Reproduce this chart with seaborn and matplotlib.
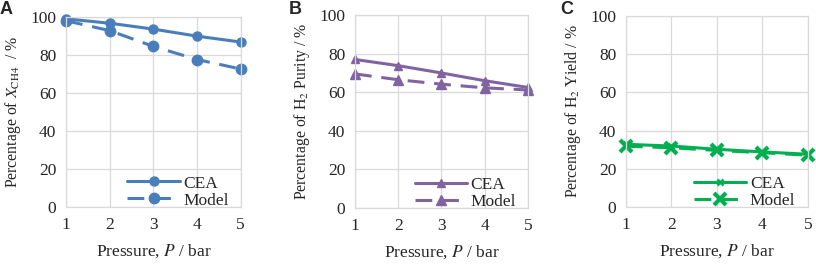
import matplotlib
matplotlib.use("Agg")
import matplotlib.pyplot as plt
import pandas as pd
import seaborn as sns

sns.set_style("white")
plt.rcParams["font.family"] = ["Liberation Serif", "DejaVu Serif"]
plt.rcParams["mathtext.fontset"] = "stix"

pressure = [1, 2, 3, 4, 5]
xch4_cea = [99.0, 96.7, 93.6, 89.9, 86.8]
xch4_model = [98.0, 92.8, 84.5, 77.6, 72.6]
purity_cea = [77.0, 73.8, 70.0, 66.0, 62.5]
purity_model = [69.5, 66.5, 64.2, 62.3, 61.2]
yield_cea = [32.8, 31.9, 30.2, 28.8, 27.6]
yield_model = [31.8, 31.0, 29.6, 28.4, 27.1]

panels = [
    ("A", xch4_cea, xch4_model, "#4a7ebb", "o", "o", 6.5, 7.5,
     r"Percentage of $\mathit{X}_{\mathrm{CH4}}$  / %",
     [0.081, 0.219, 0.214, 0.717]),
    ("B", purity_cea, purity_model, "#8064a2", "^", "^", 5.5, 7.5,
     r"Percentage of H$_2$ Purity / %",
     [0.435, 0.215, 0.212, 0.728]),
    ("C", yield_cea, yield_model, "#00b050", "x", "x", 5, 9,
     r"Percentage of H$_2$ Yield / %",
     [0.767, 0.219, 0.223, 0.721]),
]

fig = plt.figure(figsize=(8.16, 2.65), dpi=100)

for letter, cea, model, color, m1, m2, ms1, ms2, ylabel, pos in panels:
    ax = fig.add_axes(pos)
    df = pd.DataFrame({
        "P": pressure * 2,
        "value": cea + model,
        "series": ["CEA"] * 5 + ["Model"] * 5,
    })
    sns.lineplot(data=df[df.series == "CEA"], x="P", y="value", ax=ax,
                 color=color, lw=2.2, marker=m1, markersize=ms1,
                 markeredgewidth=1.8 if m1 == "x" else 1,
                 markeredgecolor=color, label="CEA", clip_on=False)
    sns.lineplot(data=df[df.series == "Model"], x="P", y="value", ax=ax,
                 color=color, lw=2.2, ls=(0, (5.5, 3.2)), marker=m2,
                 markersize=ms2, markeredgewidth=3 if m2 == "x" else 1,
                 markeredgecolor=color, label="Model", clip_on=False)
    ax.set_xlim(1, 5)
    ax.set_ylim(0, 100)
    ax.set_xticks(pressure)
    ax.set_yticks(range(0, 101, 20))
    ax.grid(True, color="#d9d9d9", lw=0.9)
    for s in ax.spines.values():
        s.set_color("#d9d9d9")
        s.set_linewidth(0.9)
    ax.tick_params(length=0, labelsize=12.5, pad=7)
    ax.set_xlabel(r"Pressure, $P$ / bar", fontsize=12.5, labelpad=7)
    ax.set_ylabel(ylabel, fontsize=11.3, labelpad=5)
    ax.legend(loc="lower right", bbox_to_anchor=(0.97, -0.045),
              frameon=False, fontsize=12.5, handlelength=3.0,
              handletextpad=0.2, labelspacing=0.05, borderaxespad=0)
    fig.text(pos[0] - 0.081, 0.998, letter, fontsize=13, fontweight="bold",
             family="Liberation Sans", va="top", ha="left")

fig.savefig("out.png", dpi=100)
